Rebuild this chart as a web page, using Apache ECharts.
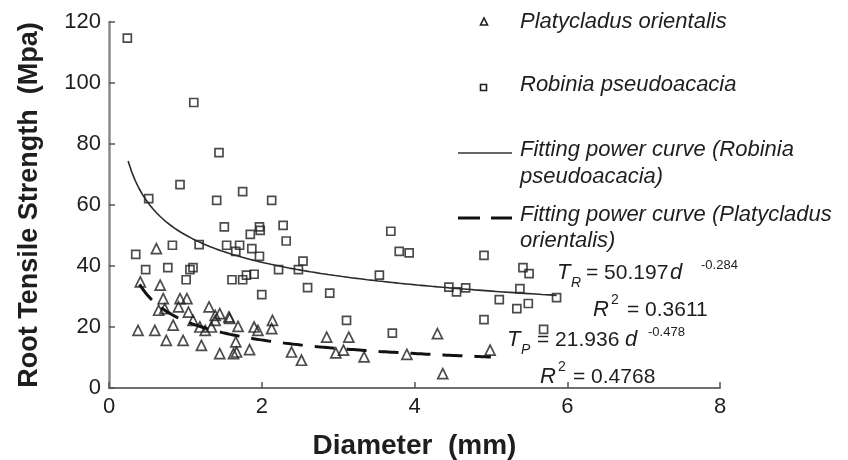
<!DOCTYPE html>
<html>
<head>
<meta charset="utf-8">
<script src="https://cdn.jsdelivr.net/npm/echarts@6/dist/echarts.min.js"></script>
<style>
  html, body { margin: 0; padding: 0; background: #fff; }
  #chart { width: 848px; height: 460px; }
</style>
</head>
<body>
<div id="chart"></div>
<script>
// Root diameter (mm) and tensile strength (MPa) per sample
const robiniaDiameter = [0.24, 1.11, 1.44, 0.93, 0.52, 1.75, 2.13, 1.41, 1.51, 1.85, 1.97, 1.98, 2.28, 2.32,
  0.83, 1.18, 1.54, 1.71, 1.87, 1.66, 1.97, 0.35, 0.48, 0.77, 1.06, 1.10, 1.01, 1.61, 1.75, 1.80, 1.90,
  2.22, 2.48, 2.54, 2.00, 2.60, 2.89, 3.11, 3.69, 3.80, 3.93, 3.54, 3.71, 4.91, 4.45, 4.55, 4.67, 5.11,
  5.38, 5.42, 5.50, 5.34, 5.49, 5.86, 4.91, 5.69];
const robiniaStrength = [114.7, 93.6, 77.2, 66.7, 62.1, 64.4, 61.5, 61.5, 52.8, 50.4, 52.8, 51.7, 53.3, 48.2,
  46.8, 47.0, 46.8, 46.8, 45.7, 44.8, 43.2, 43.8, 38.8, 39.5, 38.8, 39.5, 35.5, 35.5, 35.5, 37.0, 37.3,
  38.8, 38.8, 41.6, 30.6, 32.9, 31.1, 22.2, 51.4, 44.8, 44.3, 37.0, 18.0, 43.5, 33.1, 31.5, 32.8, 29.0,
  32.6, 39.5, 37.5, 26.0, 27.7, 29.6, 22.4, 19.2];

const platyDiameter = [0.62, 0.41, 0.67, 0.71, 0.65, 0.73, 0.93, 1.02, 0.91, 1.04, 0.38, 0.60, 0.84, 0.75,
  0.97, 1.31, 1.45, 1.58, 1.10, 1.19, 1.26, 1.34, 1.39, 1.21, 1.45, 1.63, 1.39, 1.57, 1.69, 1.90, 1.95,
  2.14, 2.13, 1.84, 1.66, 2.39, 2.52, 2.85, 2.97, 3.14, 3.07, 3.34, 3.90, 4.30, 4.37, 4.99, 1.67];
const platyStrength = [45.7, 34.8, 33.7, 29.3, 25.5, 26.0, 29.3, 29.3, 26.6, 24.9, 18.9, 18.9, 20.6, 15.6,
  15.6, 26.6, 24.4, 22.8, 22.2, 20.0, 18.9, 20.0, 22.2, 14.0, 11.3, 11.3, 23.8, 23.3, 20.2, 20.0, 18.9,
  22.2, 19.5, 12.6, 15.1, 11.8, 9.1, 16.7, 11.5, 16.7, 12.4, 10.2, 11.0, 17.8, 4.7, 12.4, 11.8];

// Power-law fits T = a * d^b and the diameter span each one covers
const robiniaFit = { a: 50.197, b: -0.284, from: 0.25, to: 5.86 };
const platyFit = { a: 21.936, b: -0.478, from: 0.40, to: 5.00 };

const xTicks = [0, 2, 4, 6, 8];
const yTicks = [0, 20, 40, 60, 80, 100, 120];

function zip(xs, ys) { return xs.map((x, i) => [x, ys[i]]); }
function fitCurve(f) {
  const pts = [];
  const n = 120;
  for (let i = 0; i <= n; i++) {
    const d = f.from + (f.to - f.from) * i / n;
    pts.push([d, f.a * Math.pow(d, f.b)]);
  }
  return pts;
}

const INK = '#1e1e1e';
const SANS = '"Liberation Sans", Arial, Helvetica, sans-serif';

const chart = echarts.init(document.getElementById('chart'), null, { renderer: 'canvas' });

function txt(x, y, text, size, opts) {
  opts = opts || {};
  return {
    type: 'text', x: x, y: y, z: 100,
    style: {
      text: text,
      fill: INK,
      font: (opts.italic ? 'italic ' : '') + size + 'px ' + SANS,
      align: opts.align || 'left',
      verticalAlign: 'middle'
    }
  };
}

const graphics = [
  // legend
  { type: 'polygon', z: 100, shape: { points: [[484, 18], [480.5, 25], [487.5, 25]] },
    style: { fill: 'none', stroke: INK, lineWidth: 1.6 } },
  txt(520, 22, 'Platycladus orientalis', 22, { italic: true }),
  { type: 'rect', z: 100, shape: { x: 480.5, y: 84.5, width: 6, height: 6 },
    style: { fill: 'none', stroke: INK, lineWidth: 1.6 } },
  txt(520, 85, 'Robinia pseudoacacia', 22, { italic: true }),
  { type: 'line', z: 100, shape: { x1: 458, y1: 153, x2: 512, y2: 153 },
    style: { stroke: '#333', lineWidth: 1.6 } },
  txt(520, 150, 'Fitting power curve (Robinia', 22, { italic: true }),
  txt(520, 177, 'pseudoacacia)', 22, { italic: true }),
  { type: 'line', z: 100, shape: { x1: 458, y1: 218, x2: 480, y2: 218 },
    style: { stroke: '#111', lineWidth: 3 } },
  { type: 'line', z: 100, shape: { x1: 491, y1: 218, x2: 512, y2: 218 },
    style: { stroke: '#111', lineWidth: 3 } },
  txt(520, 215, 'Fitting power curve (Platycladus', 22, { italic: true }),
  txt(520, 241, 'orientalis)', 22, { italic: true }),

  // Robinia fit equation
  txt(557, 273, 'T', 22, { italic: true }),
  txt(571, 283, 'R', 14, { italic: true }),
  txt(586, 273, '= 50.197', 21),
  txt(670, 273, 'd', 22, { italic: true }),
  txt(701, 265, '-0.284', 13),
  txt(593, 310, 'R', 22, { italic: true }),
  txt(611, 300, '2', 14),
  txt(627, 310, '= 0.3611', 21),

  // Platycladus fit equation
  txt(507, 340, 'T', 22, { italic: true }),
  txt(521, 350, 'P', 14, { italic: true }),
  txt(537, 340, '= 21.936', 21),
  txt(625, 340, 'd', 22, { italic: true }),
  txt(648, 332, '-0.478', 13),
  txt(540, 377, 'R', 22, { italic: true }),
  txt(558, 367, '2', 14),
  txt(573, 377, '= 0.4768', 21)
];

const option = {
  animation: false,
  backgroundColor: '#ffffff',
  grid: { left: 109, right: 128, top: 22, bottom: 72, containLabel: false, outerBoundsMode: 'none' },
  xAxis: {
    type: 'value', min: xTicks[0], max: xTicks[xTicks.length - 1], interval: 2,
    name: 'Diameter  (mm)', nameLocation: 'middle', nameGap: 44,
    nameTextStyle: { fontFamily: SANS, fontWeight: 'bold', fontSize: 28, color: INK },
    axisLine: { show: true, onZero: false, lineStyle: { color: '#6e6e6e', width: 2 } },
    axisTick: { show: true, inside: true, length: 6, lineStyle: { color: '#555', width: 1.5 } },
    axisLabel: { fontFamily: SANS, fontSize: 22, color: INK, margin: 8 },
    splitLine: { show: false }
  },
  yAxis: {
    type: 'value', min: yTicks[0], max: yTicks[yTicks.length - 1], interval: 20,
    name: 'Root Tensile Strength  (Mpa)', nameLocation: 'middle', nameGap: 66,
    nameTextStyle: { fontFamily: SANS, fontWeight: 'bold', fontSize: 27, color: INK },
    axisLine: { show: true, onZero: false, lineStyle: { color: '#8a8a8a', width: 2.5 } },
    axisTick: { show: true, inside: true, length: 6, lineStyle: { color: '#555', width: 1.5 } },
    axisLabel: { fontFamily: SANS, fontSize: 22, color: INK, margin: 8 },
    splitLine: { show: false }
  },
  series: [
    {
      name: 'Platycladus orientalis', type: 'scatter', symbol: 'triangle', symbolSize: 10,
      data: zip(platyDiameter, platyStrength),
      itemStyle: { color: 'rgba(255,255,255,0)', borderColor: INK, borderWidth: 1.7 },
      z: 3
    },
    {
      name: 'Robinia pseudoacacia', type: 'scatter', symbol: 'rect', symbolSize: 8,
      data: zip(robiniaDiameter, robiniaStrength),
      itemStyle: { color: 'rgba(255,255,255,0)', borderColor: INK, borderWidth: 1.7 },
      z: 3
    },
    {
      name: 'Fitting power curve (Robinia pseudoacacia)', type: 'line', showSymbol: false,
      data: fitCurve(robiniaFit),
      lineStyle: { color: '#2a2a2a', width: 1.6 }, z: 4
    },
    {
      name: 'Fitting power curve (Platycladus orientalis)', type: 'line', showSymbol: false,
      data: fitCurve(platyFit),
      lineStyle: { color: '#111', width: 3, type: [20, 12] }, z: 4
    }
  ],
  graphic: graphics
};

chart.setOption(option);
</script>
</body>
</html>
